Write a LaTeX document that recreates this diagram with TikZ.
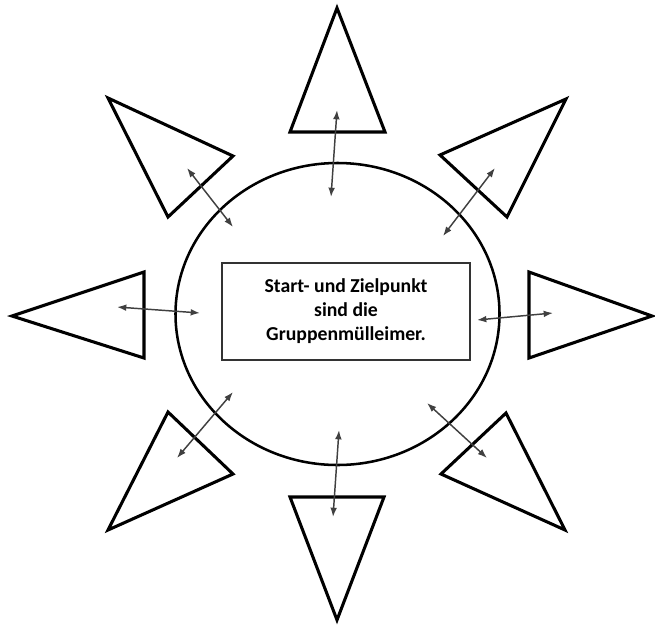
\documentclass[tikz,border=0pt]{standalone}
\usepackage{fontspec}
\setmainfont{Carlito}
\usetikzlibrary{arrows.meta}
\begin{document}
\begin{tikzpicture}[x=0.75pt, y=-0.75pt, >={Latex[length=7pt,width=5pt]},
    font=\bfseries\fontsize{14.8}{18}\selectfont,
    dreieck/.style={line width=2.3pt, line join=miter},
    pfeil/.style={<->, draw=black!75, line width=1.1pt}]
    \useasboundingbox (0,0) rectangle (655,625);
    % Platz
    \draw[line width=1.9pt] (337.5,314) ellipse [x radius=162, y radius=151];
    % Kasten in der Mitte
    \node[draw=black!80, line width=1.4pt, minimum width=186pt, minimum height=73pt,
          align=center, inner sep=0pt] (ziel) at (346,311.5)
          {Start- und Zielpunkt\\sind die\\Gruppenmülleimer.};
    % Dreiecke
    \draw[dreieck] (337,8) -- (290,132) -- (385,132) -- cycle;
    \draw[dreieck] (566,99) -- (440,155) -- (507,217) -- cycle;
    \draw[dreieck] (652,316) -- (529,272) -- (529,358) -- cycle;
    \draw[dreieck] (506,413) -- (441,474) -- (565,530) -- cycle;
    \draw[dreieck] (337,620) -- (290,497) -- (384,497) -- cycle;
    \draw[dreieck] (168,412) -- (233,474) -- (108,530) -- cycle;
    \draw[dreieck] (12,316) -- (144,272) -- (144,358) -- cycle;
    \draw[dreieck] (108,98) -- (233,156) -- (168,217) -- cycle;
    % Pfeilenden
    \coordinate (o-a) at (337,110);  \coordinate (o-i) at (331,197);
    \coordinate (no-a) at (495,168); \coordinate (no-i) at (443,236);
    \coordinate (r-a) at (553,313);  \coordinate (r-i) at (477,320);
    \coordinate (so-a) at (487,458); \coordinate (so-i) at (427,403);
    \coordinate (u-a) at (333,517);  \coordinate (u-i) at (339,430);
    \coordinate (sw-a) at (177,458); \coordinate (sw-i) at (233,392);
    \coordinate (l-a) at (117,307);  \coordinate (l-i) at (200,313);
    \coordinate (nw-a) at (187,168); \coordinate (nw-i) at (233,227);
    % Pfeile
    \foreach \n in {o,no,r,so,u,sw,l,nw} \draw[pfeil] (\n-a) -- (\n-i);
\end{tikzpicture}
\end{document}
